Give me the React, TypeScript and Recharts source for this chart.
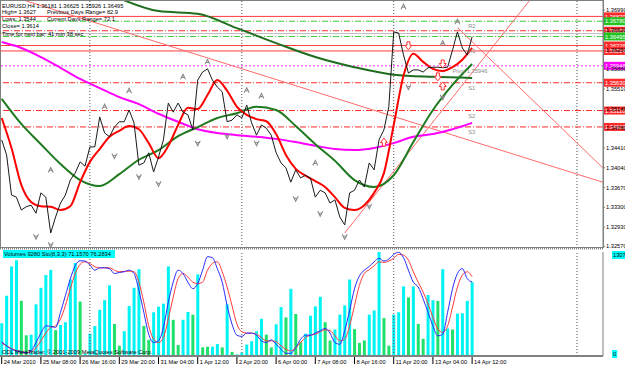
import React from 'react'
import {
  ComposedChart,
  Line,
  Bar,
  Cell,
  Scatter,
  XAxis,
  YAxis,
  ReferenceLine,
  ReferenceDot,
} from 'recharts'

const FONT = '"Liberation Sans", Arial, sans-serif'
const FS = 5.7

// H4 closes, one per bar
const CLOSE = [
  1.3456, 1.3428, 1.3353, 1.3349, 1.3325, 1.3331, 1.3334, 1.3319, 1.3357, 1.3349,
  1.3282, 1.3312, 1.3338, 1.3353, 1.3381, 1.3394, 1.3415, 1.3407, 1.3443, 1.3443,
  1.3499, 1.3469, 1.3462, 1.348, 1.349, 1.349, 1.3512, 1.3488, 1.3409, 1.3413,
  1.3432, 1.3396, 1.3424, 1.3456, 1.3525, 1.3508, 1.3525, 1.3508, 1.3503, 1.3475,
  1.3568, 1.3583, 1.3589, 1.3568, 1.3555, 1.3546, 1.349, 1.3493, 1.3503, 1.3497,
  1.3521, 1.3488, 1.3465, 1.3484, 1.3478, 1.3465, 1.3432, 1.3413, 1.3404, 1.3377,
  1.34, 1.3385, 1.339, 1.3385, 1.3349, 1.3362, 1.3357, 1.3338, 1.3344, 1.3312,
  1.3297, 1.3357, 1.3362, 1.3381, 1.3368, 1.3413, 1.34, 1.3456, 1.3475, 1.3518,
  1.3658, 1.3656, 1.3615, 1.3581, 1.3587, 1.3587, 1.3583, 1.3591, 1.3592, 1.3592,
  1.3591, 1.3592, 1.3624, 1.3658, 1.3628, 1.3615, 1.3649,
]

// moving averages (fast: every 2 bars, mid/slow: every 4, long: every 8)
const MA_FAST = [
  1.3497, 1.3441, 1.3372, 1.334, 1.3332, 1.3331, 1.3325, 1.3332, 1.3377, 1.3415,
  1.3439, 1.3462, 1.3473, 1.3482, 1.3476, 1.345, 1.3422, 1.3445, 1.3484, 1.3516,
  1.3514, 1.354, 1.3568, 1.3548, 1.3518, 1.3503, 1.3495, 1.3491, 1.3467, 1.3428,
  1.3402, 1.3389, 1.3379, 1.3368, 1.3349, 1.3329, 1.3325, 1.3334, 1.3357, 1.3394,
  1.3484, 1.3576, 1.3617, 1.3602, 1.3589, 1.3585, 1.3592, 1.3606, 1.3628,
]
const MA_MID = [
  1.3533, 1.3486, 1.3448, 1.3411, 1.3381, 1.337, 1.3392, 1.3419, 1.3437, 1.3463,
  1.348, 1.3497, 1.3506, 1.3518, 1.3512, 1.3482, 1.3448, 1.3417, 1.3381, 1.3368,
  1.339, 1.3452, 1.3512, 1.3559, 1.3598,
]
const MA_SLOW = [
  1.3639, 1.3628, 1.3611, 1.3591, 1.357, 1.3553, 1.3536, 1.3523, 1.3505, 1.349,
  1.3476, 1.3469, 1.3465, 1.3462, 1.3458, 1.3452, 1.3445, 1.3439, 1.3437, 1.3441,
  1.345, 1.3462, 1.3467, 1.3476, 1.3488,
]
const MA_LONG = [
  null, null, null, 1.3721, 1.3697, 1.3692, 1.3665, 1.3637, 1.3611, 1.3592, 1.3578,
  1.3574, 1.3572,
]

const VOLUME = [
  4114, 7578, 11258, 12037, 6928, 2598, 2685, 6495, 8573, 10176,
  10825, 3248, 3897, 4243, 9613, 11691, 6841, 300, 2815, 3767,
  5802, 7015, 8877, 4027, 1299, 3118, 6279, 8573, 10912, 3767,
  2035, 5499, 6192, 6582, 11258, 4547, 1386, 4547, 5542, 5196,
  10262, 1083, 1169, 1169, 1516, 1083, 6495, 520, 200, 433,
  1429, 1862, 3118, 4676, 2685, 1083, 3984, 6149, 4850, 8444,
  5283, 1732, 2815, 5066, 6235, 7448, 4243, 1949, 3334, 5196,
  6365, 9613, 3377, 1645, 1949, 5196, 5716, 13073, 4763, 1299,
  5196, 5499, 8747, 7361, 8747, 4027, 2165, 7664, 7015, 6928,
  10912, 3464, 3334, 5326, 5369, 6928, 9280,
]
const VOL_GREEN_BARS = [
  4, 5, 11, 16, 23, 24, 29, 30, 35, 36, 39, 41, 42, 45, 47, 54, 55, 58, 60, 61,
  66, 67, 72, 73, 74, 78, 79, 83, 85, 86, 89, 92,
]

const STOCH_MAIN = [
  13.6, 9.7, 6.5, 4.9, 3.9, 3.2, 4.9, 12.9, 22, 29, 28.5, 27.5, 42, 58, 74, 87,
  91.6, 91.3, 87.4, 82.5, 84.8, 84.8, 84, 79.3, 80.3, 81, 82.5, 79.3, 63, 42, 21,
  13, 14.6, 27.5, 51.8, 71, 82.5, 79.3, 71, 64.7, 69.6, 82.5, 95.5, 94.5, 84, 71,
  48.5, 30.7, 20, 18.8, 22, 22, 20, 14.6, 13, 15.5, 11.3, 6.5, 2.6, 2.6, 8, 16,
  20, 20, 22, 24.3, 26.5, 22, 13, 11.3, 24.3, 43.7, 64.7, 77, 82.5, 86, 90.6,
  93.9, 91.3, 93.2, 97.7, 99.7, 94.5, 82.5, 71, 66.3, 55, 42, 29, 19.4, 21, 42,
  64.7, 79.3, 84, 74.4, 71.157,
]
const STOCH_SIGNAL = [
  12.3, 9.7, 7.1, 5.2, 3.9, 3.2, 3.9, 8, 14.6, 22, 27.5, 29, 35.6, 48.5, 64.7,
  79.3, 88, 90.6, 89, 85.8, 84.8, 84.8, 84.8, 82.5, 81, 81.3, 81.6, 81, 71, 51.8,
  29, 16.2, 13, 17.8, 35.6, 56.6, 74.4, 79.3, 76, 71, 69.6, 71, 82.5, 89, 90.6, 81,
  66.3, 48.5, 30.7, 23.3, 22, 22, 21, 17.8, 14.6, 14.6, 13.6, 9.7, 6.5, 4.9, 8,
  13, 17.8, 20, 21, 23.3, 25.2, 24.3, 19.4, 14.6, 16.2, 29, 48.5, 68, 79.3, 83,
  86.7, 90.6, 90, 91.3, 93.9, 97.7, 97, 92.2, 81, 71, 61.5, 50.2, 37.2, 25.9, 22.7,
  29, 47, 66.3, 77.7, 81, 76.2834,
]

// fractals and signal arrows: [bar, price]
const FRACTAL_UP = [
  [10, 1.34], [21, 1.3518], [26, 1.3548], [37, 1.3574], [42, 1.3602], [50, 1.3549],
  [53, 1.3538], [64, 1.3413], [82, 1.3705], [90, 1.3637], [93, 1.3677],
]
const FRACTAL_DOWN = [
  [7, 1.3275], [10, 1.326], [23, 1.3426], [28, 1.3387], [32, 1.3374], [40, 1.345],
  [46, 1.3463], [52, 1.345], [60, 1.3346], [65, 1.3318], [70, 1.3275], [75, 1.3332],
  [83, 1.3555], [90, 1.3536],
]
const ARROW_DOWN = [[83, 1.3632], [89, 1.3574], [90, 1.3598]]
const ARROW_UP = [[78, 1.3452], [90, 1.3557]]

// trend lines: [[bar, price], [bar, price]]
const TRENDLINES = [
  [[0, 1.37304], [122.7, 1.33768]],
  [[93.1, 1.36653], [122.7, 1.34035]],
  [[70, 1.3282], [107.8, 1.37177]],
]

// horizontal levels
const LEVEL_PRICES = [1.3687, 1.3678, 1.36602, 1.3655, 1.36495, 1.36326, 1.36224, 1.35946, 1.3563, 1.3511, 1.34803]
const PIVOT_LABELS = [
  ['R2', 1.3678], ['R1', 1.36326], ['Pivot 1.35946', 1.35946], ['S1', 1.3563], ['S2', 1.3511], ['S3', 1.34803],
]
const SEPARATORS = [18, 49, 80, 117.4]

const TIME_TICKS = [0, 8, 16, 24, 32, 40, 48, 56, 64, 72, 80, 88, 96]
const TIME_LABELS = [
  '24 Mar 2010', '25 Mar 08:00', '26 Mar 16:00', '29 Mar 20:00', '31 Mar 04:00',
  '1 Apr 12:00', '2 Apr 20:00', '6 Apr 00:00', '7 Apr 08:00', '8 Apr 16:00',
  '11 Apr 20:00', '13 Apr 04:00', '14 Apr 12:00',
]
const PRICE_TICKS = [1.3699, 1.3662, 1.3625, 1.3588, 1.3551, 1.3514, 1.3478, 1.3441, 1.3404, 1.3367, 1.333, 1.3293, 1.3257]
const VOL_MAX = 13073

const X_DOMAIN = [-0.347, 122.71]
const P_DOMAIN = [1.325394, 1.371583]

const rows = CLOSE.map((c, i) => ({
  i,
  close: c,
  vol: VOLUME[i],
  k: STOCH_MAIN[i],
  d: STOCH_SIGNAL[i],
  fast: i % 2 === 0 ? MA_FAST[i / 2] : null,
  mid: i % 4 === 0 ? MA_MID[i / 4] : null,
  slow: i % 4 === 0 ? MA_SLOW[i / 4] : null,
  long: i % 8 === 0 ? MA_LONG[i / 8] : null,
}))
const toPts = (arr: number[][]) => arr.map(([i, p]) => ({ i, p }))

const levelStyle = [
  { stroke: '#ff3b3b', dash: undefined, tag: '#ff2a2a' },
  { stroke: '#3ccf3c', dash: '6 2 1 2', tag: '#22c422' },
  { stroke: '#ff2a2a', dash: '6 2 1 2', tag: '#ff2a2a' },
  { stroke: '#c0c0c0', dash: undefined, tag: null },
  { stroke: '#3ccf3c', dash: '6 2 1 2', tag: '#22c422' },
  { stroke: '#ff3b3b', dash: undefined, tag: '#ff2a2a' },
  { stroke: '#ff3b3b', dash: undefined, tag: '#ff2a2a' },
  { stroke: '#ff33ff', dash: '2 2', tag: '#ff00ff' },
  { stroke: '#ff2a2a', dash: '6 2 1 2', tag: '#ff2a2a' },
  { stroke: '#ff2a2a', dash: '6 2 1 2', tag: '#ff2a2a' },
  { stroke: '#ff2a2a', dash: '6 2 1 2', tag: '#ff2a2a' },
]

function PriceTag({ viewBox, text, color }: any) {
  if (!viewBox) return null
  const x = viewBox.x + viewBox.width + 1
  return (
    <g>
      <rect x={x} y={viewBox.y - 4} width={22} height={8} fill={color} />
      <text x={x + 1} y={viewBox.y + 2.2} fontSize={FS} fill="#fff" fontFamily={FONT}>
        {text}
      </text>
    </g>
  )
}

function LevelText({ viewBox, text }: any) {
  if (!viewBox) return null
  return (
    <text x={viewBox.x} y={viewBox.y + 7} fontSize={FS} fill="#8c8c8c" fontFamily={FONT}>
      {text}
    </text>
  )
}

function FractalUp({ cx, cy }: any) {
  return <path d={`M${cx - 2.5},${cy + 2.5} L${cx},${cy - 2.5} L${cx + 2.5},${cy + 2.5} M${cx - 1.3},${cy + 0.5} L${cx + 1.3},${cy + 0.5}`} stroke="#8a8a8a" strokeWidth={1.1} fill="none" />
}
function FractalDown({ cx, cy }: any) {
  return <path d={`M${cx - 2.5},${cy - 2.5} L${cx},${cy + 2.5} L${cx + 2.5},${cy - 2.5} M${cx - 1.3},${cy - 0.5} L${cx + 1.3},${cy - 0.5}`} stroke="#8a8a8a" strokeWidth={1.1} fill="none" />
}
function ArrowDown({ cx, cy }: any) {
  return <path d={`M${cx - 1.5},${cy - 4} h3 v3.5 h2 L${cx},${cy + 4} L${cx - 3.5},${cy - 0.5} h2 Z`} stroke="#ff3030" strokeWidth={1} fill="#fff" />
}
function ArrowUp({ cx, cy }: any) {
  return <path d={`M${cx - 1.5},${cy + 4} h3 v-3.5 h2 L${cx},${cy - 4} L${cx - 3.5},${cy + 0.5} h2 Z`} stroke="#ff3030" strokeWidth={1} fill="#fff" />
}

function TimeTick({ x, y, payload }: any) {
  const idx = TIME_TICKS.indexOf(payload.value)
  return (
    <g>
      <line x1={x} y1={y + 1} x2={x} y2={y + 8} stroke="#000" strokeWidth={1} />
      <text x={x + 2} y={y + 7.5} fontSize={FS} fill="#000" fontFamily={FONT}>
        {TIME_LABELS[idx]}
      </text>
    </g>
  )
}

function VolTick({ x, y, payload }: any) {
  const s = String(payload.value)
  const w = s.length * 3.2 + 2
  const yy = payload.value === 0 ? y - 2 : y + 3
  return (
    <g>
      <rect x={x + 1} y={yy - 4} width={w} height={8} fill="#00ffff" />
      <text x={x + 2} y={yy + 2.2} fontSize={FS} fill="#000" fontFamily={FONT}>
        {s}
      </text>
    </g>
  )
}

export default function App() {
  return (
    <div style={{ position: 'fixed', left: 0, top: 0, width: 625, height: 370, background: '#fff', overflow: 'hidden' }}>
      <div style={{ position: 'absolute', left: 0, top: 0 }}>
        <ComposedChart width={625} height={248} data={rows} margin={{ top: 1, right: 0, bottom: 0, left: 0 }}>
          <XAxis dataKey="i" type="number" domain={X_DOMAIN} hide allowDataOverflow />
          <YAxis
            orientation="right"
            width={22}
            domain={P_DOMAIN}
            allowDataOverflow
            ticks={PRICE_TICKS}
            interval={0}
            tickFormatter={(v: number) => v.toFixed(5)}
            tick={{ fontSize: FS, fill: '#000', fontFamily: FONT }}
            tickSize={2}
            tickMargin={1}
            axisLine={{ stroke: '#808080' }}
            tickLine={{ stroke: '#808080' }}
          />
          {SEPARATORS.map((s) => (
            <ReferenceLine key={'sep' + s} x={s} stroke="#555" strokeDasharray="1 2" />
          ))}
          {LEVEL_PRICES.map((p, n) => (
            <ReferenceLine
              key={'lv' + n}
              y={p}
              stroke={levelStyle[n].stroke}
              strokeDasharray={levelStyle[n].dash}
              label={levelStyle[n].tag ? (props: any) => <PriceTag {...props} text={p.toFixed(5)} color={levelStyle[n].tag} /> : undefined}
            />
          ))}
          {TRENDLINES.map((t, n) => (
            <ReferenceLine
              key={'tl' + n}
              segment={[{ x: t[0][0], y: t[0][1] }, { x: t[1][0], y: t[1][1] }]}
              stroke="#ff6a6a"
              ifOverflow="hidden"
            />
          ))}
          {PIVOT_LABELS.map(([t, p]) => (
            <ReferenceDot
              key={'pl' + t}
              x={t === 'Pivot 1.35946' ? 92 : 95.2}
              y={p as number}
              r={0}
              fill="none"
              stroke="none"
              label={(props: any) => <LevelText {...props} text={t} />}
            />
          ))}
          <Line dataKey="long" type="monotone" connectNulls stroke="#1f6e1f" strokeWidth={2} dot={false} isAnimationActive={false} />
          <Line dataKey="slow" type="monotone" connectNulls stroke="#ff00ff" strokeWidth={2} dot={false} isAnimationActive={false} />
          <Line dataKey="mid" type="monotone" connectNulls stroke="#1f7a1f" strokeWidth={2} dot={false} isAnimationActive={false} />
          <Line dataKey="fast" type="monotone" connectNulls stroke="#ff0000" strokeWidth={2} dot={false} isAnimationActive={false} />
          <Line dataKey="close" type="linear" stroke="#1a1a1a" strokeWidth={1} dot={false} isAnimationActive={false} />
          <Scatter data={toPts(FRACTAL_UP)} dataKey="p" shape={FractalUp} isAnimationActive={false} />
          <Scatter data={toPts(FRACTAL_DOWN)} dataKey="p" shape={FractalDown} isAnimationActive={false} />
          <Scatter data={toPts(ARROW_DOWN)} dataKey="p" shape={ArrowDown} isAnimationActive={false} />
          <Scatter data={toPts(ARROW_UP)} dataKey="p" shape={ArrowUp} isAnimationActive={false} />
        </ComposedChart>
      </div>
      <div style={{ position: 'absolute', left: 0, top: 248 }}>
        <ComposedChart width={625} height={122} data={rows} margin={{ top: 4, right: 0, bottom: 0, left: 0 }}>
          <XAxis
            dataKey="i"
            type="number"
            domain={X_DOMAIN}
            allowDataOverflow
            ticks={TIME_TICKS}
            interval={0}
            height={14}
            tick={<TimeTick />}
            tickLine={false}
            tickSize={0}
            tickMargin={0}
            axisLine={{ stroke: '#808080', strokeWidth: 2 }}
          />
          <YAxis
            yAxisId="v"
            orientation="right"
            width={22}
            domain={[0, VOL_MAX]}
            ticks={[0, VOL_MAX]}
            interval={0}
            tick={<VolTick />}
            tickLine={false}
            axisLine={{ stroke: '#808080' }}
          />
          <YAxis yAxisId="s" hide domain={[0, 100]} />
          {SEPARATORS.map((s) => (
            <ReferenceLine key={'sep' + s} yAxisId="v" x={s} stroke="#555" strokeDasharray="1 2" />
          ))}
          <Bar yAxisId="v" dataKey="vol" barSize={3} isAnimationActive={false}>
            {rows.map((r) => (
              <Cell key={r.i} fill={VOL_GREEN_BARS.includes(r.i) ? '#1fe06a' : '#00f4f4'} />
            ))}
          </Bar>
          <Line yAxisId="s" dataKey="d" type="monotone" stroke="#ff3a3a" strokeWidth={1} dot={false} isAnimationActive={false} />
          <Line yAxisId="s" dataKey="k" type="monotone" stroke="#2b2bff" strokeWidth={1} dot={false} isAnimationActive={false} />
        </ComposedChart>
      </div>
      <svg width={625} height={370} style={{ position: 'absolute', left: 0, top: 0, pointerEvents: 'none' }} fontFamily={FONT} fontSize={FS}>
        <rect x={0.5} y={0.5} width={603} height={247} fill="none" stroke="#808080" />
        <line x1={0} y1={248.5} x2={604} y2={248.5} stroke="#808080" strokeWidth={2} strokeDasharray="1 1" />
        <text x={2} y={7.5} fill="#000">EURUSD,H4  1.36181 1.36625 1.35926 1.36495</text>
        <text x={2} y={14.4} fill="#000">High= 1.3627</text>
        <text x={47} y={14.4} fill="#000">Previous Days Range= 82.9</text>
        <text x={2} y={21.3} fill="#000">Lows: 1.3544</text>
        <text x={47} y={21.3} fill="#000">Current Days Range= 72.1</text>
        <text x={2} y={28.4} fill="#000">Close= 1.3614</text>
        <text x={2} y={36} fill="#000">Time for next bar: 41 min 38 sec</text>
        <rect x={3} y={250} width={112} height={8} fill="#00ffff" />
        <text x={4} y={256.2} fill="#000">Volumes 9280  Sto(8,3,3) 71.1570 76.2834</text>
        <text x={2} y={354} fill="#000">ODL MetaTrader, © 2001-2009 MetaQuotes Software Corp.</text>
      </svg>
    </div>
  )
}
